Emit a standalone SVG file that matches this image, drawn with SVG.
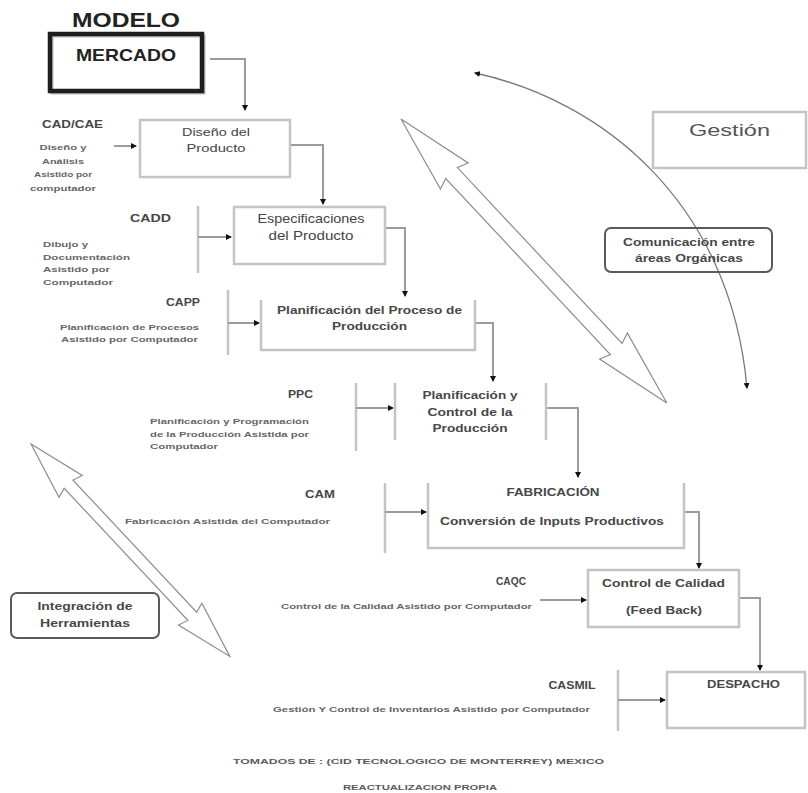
<svg xmlns="http://www.w3.org/2000/svg" width="808" height="793" viewBox="0 0 808 793">
  <style>
    text { font-family: "Liberation Sans", Arial, sans-serif; }
    .ttl { font-weight: bold; fill: #222; }
    .lbl { font-weight: bold; fill: #474747; font-size: 10px; }
    .big { fill: #444; }
    .desc { font-weight: bold; fill: #666; font-size: 8px; }
    .box { fill: none; stroke: #c4c4c4; stroke-width: 2.5; }
    .rbox { fill: none; stroke: #5a5a5a; stroke-width: 2; }
    .conn { fill: none; stroke: #9c9c9c; stroke-width: 2; }
    .bar { fill: none; stroke: #c4c4c4; stroke-width: 2.5; }
    .dbl { fill: #fff; stroke: #8c8c8c; stroke-width: 1.2; stroke-linejoin: miter; }
    .curve { fill: none; stroke: #7a7a7a; stroke-width: 1.3; }
    .note { font-weight: bold; fill: #5a5a5a; font-size: 8px; }
  </style>
  <defs>
    <marker id="tip" viewBox="0 0 6 6" refX="5" refY="3" markerWidth="6" markerHeight="6" orient="auto-start-reverse" markerUnits="userSpaceOnUse">
      <path d="M0,0 L6,3 L0,6 z" fill="#111"/>
    </marker>
  </defs>
  <rect width="808" height="793" fill="#fff"/>

  <!-- title -->
  <text class="ttl" x="126" y="27" font-size="21" text-anchor="middle" textLength="108" lengthAdjust="spacingAndGlyphs">MODELO</text>

  <!-- connectors -->
  <g id="connectors">
    <path class="conn" d="M210,59 H245 V110" marker-end="url(#tip)"/>
    <path class="conn" d="M114,146 H136" marker-end="url(#tip)"/>
    <path class="conn" d="M290,145 H323 V204" stroke="#6a6a6a" marker-end="url(#tip)"/>
    <path class="bar" d="M198,206 V273"/>
    <path class="conn" d="M198,237 H231" marker-end="url(#tip)"/>
    <path class="conn" d="M386,228 H405 V296" marker-end="url(#tip)"/>
    <path class="bar" d="M228,290 V355"/>
    <path class="conn" d="M228,323 H259" marker-end="url(#tip)"/>
    <path class="conn" d="M476,323 H493 V381" marker-end="url(#tip)"/>
    <path class="bar" d="M356,383 V451"/>
    <path class="conn" d="M356,408 H393" marker-end="url(#tip)"/>
    <path class="conn" d="M546,408 H578 V477" marker-end="url(#tip)"/>
    <path class="bar" d="M385,483 V553"/>
    <path class="conn" d="M385,512 H426" marker-end="url(#tip)"/>
    <path class="conn" d="M684,512 H699 V568" marker-end="url(#tip)"/>
    <path class="conn" d="M540,600 H586" stroke="#8a8a8a" marker-end="url(#tip)"/>
    <path class="conn" d="M739,598 H760 V670" marker-end="url(#tip)"/>
    <path class="bar" d="M618,670 V731"/>
    <path class="conn" d="M618,700 H665" marker-end="url(#tip)"/>
    <!-- management feedback curve -->
    <path class="curve" d="M475,73 C600,100 730,200 747,388" marker-start="url(#tip)" marker-end="url(#tip)"/>
    <!-- hollow double arrows -->
    <polygon class="dbl" transform="translate(401,119) rotate(46.9)" points="0,0 78,-19 74,-8 315,-8 311,-19 389,0 311,19 315,8 74,8 78,19"/>
    <polygon class="dbl" transform="translate(31,444) rotate(46.9)" points="0,0 58,-16 55,-6 236,-6 233,-16 291,0 233,16 236,6 55,6 58,16"/>
  </g>

  <g id="mercado">
    <rect x="52" y="36" width="152" height="57" fill="none" stroke="#bbb" stroke-width="3"/>
    <rect x="50" y="34" width="152" height="57" fill="none" stroke="#1e1e1e" stroke-width="4.5"/>
    <text class="ttl" x="126" y="61" font-size="17" text-anchor="middle" textLength="100" lengthAdjust="spacingAndGlyphs" fill="#333">MERCADO</text>
  </g>

  <g id="diseno">
    <rect class="box" x="140" y="120" width="150" height="57"/>
    <text class="big" x="216" y="136" font-size="11" text-anchor="middle" textLength="68" lengthAdjust="spacingAndGlyphs">Diseño del</text>
    <text class="big" x="216" y="152" font-size="11" text-anchor="middle" textLength="59" lengthAdjust="spacingAndGlyphs">Producto</text>
  </g>

  <g id="cad-cae">
    <text class="lbl" x="72.5" y="127.5" text-anchor="middle" textLength="61" lengthAdjust="spacingAndGlyphs">CAD/CAE</text>
    <text class="desc" x="63" y="150" text-anchor="middle" textLength="47" lengthAdjust="spacingAndGlyphs">Diseño y</text>
    <text class="desc" x="63" y="164" text-anchor="middle" textLength="42" lengthAdjust="spacingAndGlyphs">Análisis</text>
    <text class="desc" x="63" y="177" text-anchor="middle" textLength="58" lengthAdjust="spacingAndGlyphs">Asistido por</text>
    <text class="desc" x="63" y="191" text-anchor="middle" textLength="66" lengthAdjust="spacingAndGlyphs">computador</text>
  </g>

  <g id="especificaciones">
    <rect class="box" x="234" y="207" width="151" height="57"/>
    <text class="big" x="311" y="222.5" font-size="13" text-anchor="middle" textLength="107" lengthAdjust="spacingAndGlyphs">Especificaciones</text>
    <text class="big" x="311" y="239.5" font-size="13" text-anchor="middle" textLength="85" lengthAdjust="spacingAndGlyphs">del Producto</text>
  </g>

  <g id="cadd">
    <text class="lbl" x="150.5" y="221.5" text-anchor="middle" textLength="41" lengthAdjust="spacingAndGlyphs">CADD</text>
    <text class="desc" x="43" y="247" textLength="45" lengthAdjust="spacingAndGlyphs">Dibujo y</text>
    <text class="desc" x="43" y="260" textLength="87" lengthAdjust="spacingAndGlyphs">Documentación</text>
    <text class="desc" x="43" y="272" textLength="67" lengthAdjust="spacingAndGlyphs">Asistido por</text>
    <text class="desc" x="43" y="285" textLength="70" lengthAdjust="spacingAndGlyphs">Computador</text>
  </g>

  <g id="plan-proceso">
    <path class="box" d="M261,300 V350 H475 V300"/>
    <text class="lbl" x="369.5" y="314" text-anchor="middle" textLength="185" lengthAdjust="spacingAndGlyphs">Planificación del Proceso de</text>
    <text class="lbl" x="369.5" y="330" text-anchor="middle" textLength="75" lengthAdjust="spacingAndGlyphs">Producción</text>
  </g>

  <g id="capp">
    <text class="lbl" x="183" y="305.5" text-anchor="middle" textLength="34" lengthAdjust="spacingAndGlyphs">CAPP</text>
    <text class="desc" x="60" y="330" textLength="139" lengthAdjust="spacingAndGlyphs">Planificación de Procesos</text>
    <text class="desc" x="61" y="342" textLength="137" lengthAdjust="spacingAndGlyphs">Asistido por Computador</text>
  </g>

  <g id="plan-control">
    <path class="bar" d="M395,383 V440 M546,383 V440"/>
    <text class="lbl" x="470" y="398.5" text-anchor="middle" textLength="95" lengthAdjust="spacingAndGlyphs">Planificación y</text>
    <text class="lbl" x="470" y="415.5" text-anchor="middle" textLength="85" lengthAdjust="spacingAndGlyphs">Control de la</text>
    <text class="lbl" x="470" y="431.5" text-anchor="middle" textLength="75" lengthAdjust="spacingAndGlyphs">Producción</text>
  </g>

  <g id="ppc">
    <text class="lbl" x="300.5" y="397.5" text-anchor="middle" textLength="25" lengthAdjust="spacingAndGlyphs">PPC</text>
    <text class="desc" x="150" y="424" textLength="159" lengthAdjust="spacingAndGlyphs">Planificación y Programación</text>
    <text class="desc" x="150" y="437" textLength="159" lengthAdjust="spacingAndGlyphs">de la Producción Asistida por</text>
    <text class="desc" x="150" y="449" textLength="68" lengthAdjust="spacingAndGlyphs">Computador</text>
  </g>

  <g id="fabricacion">
    <path class="box" d="M428,483 V548 H684 V483"/>
    <text class="lbl" x="553" y="495.5" font-size="9" text-anchor="middle" textLength="93" lengthAdjust="spacingAndGlyphs">FABRICACIÓN</text>
    <text class="lbl" x="552" y="525" font-size="11" text-anchor="middle" textLength="224" lengthAdjust="spacingAndGlyphs">Conversión de Inputs Productivos</text>
  </g>

  <g id="cam">
    <text class="lbl" x="320" y="497.5" text-anchor="middle" textLength="30" lengthAdjust="spacingAndGlyphs">CAM</text>
    <text class="desc" x="125" y="524" textLength="205" lengthAdjust="spacingAndGlyphs">Fabricación Asistida del Computador</text>
  </g>

  <g id="control-calidad">
    <rect class="box" x="588" y="570" width="151" height="57"/>
    <text class="lbl" x="663.5" y="586.5" text-anchor="middle" textLength="123" lengthAdjust="spacingAndGlyphs">Control de Calidad</text>
    <text class="lbl" x="664" y="613.5" text-anchor="middle" textLength="76" lengthAdjust="spacingAndGlyphs">(Feed Back)</text>
  </g>

  <g id="caqc">
    <text class="lbl" x="511" y="584.5" text-anchor="middle" textLength="30" lengthAdjust="spacingAndGlyphs">CAQC</text>
    <text class="desc" x="281" y="609" font-size="7.5" textLength="251" lengthAdjust="spacingAndGlyphs">Control de la Calidad Asistido por Computador</text>
  </g>

  <g id="despacho">
    <rect class="box" x="667" y="672" width="138" height="56"/>
    <text class="lbl" x="743.5" y="687.5" text-anchor="middle" textLength="73" lengthAdjust="spacingAndGlyphs">DESPACHO</text>
  </g>

  <g id="casmil">
    <text class="lbl" x="572" y="688.5" text-anchor="middle" textLength="47" lengthAdjust="spacingAndGlyphs">CASMIL</text>
    <text class="desc" x="273" y="711.5" font-size="7" textLength="317" lengthAdjust="spacingAndGlyphs">Gestión Y Control de Inventarios Asistido por Computador</text>
  </g>

  <g id="gestion">
    <rect class="box" x="653" y="112" width="153" height="56"/>
    <text x="729.5" y="135.5" font-size="16" fill="#555" text-anchor="middle" textLength="81" lengthAdjust="spacingAndGlyphs">Gestión</text>
  </g>

  <g id="comunicacion">
    <rect class="rbox" x="605" y="228" width="167" height="44" rx="6"/>
    <text class="lbl" x="689" y="246" font-size="9" text-anchor="middle" textLength="132" lengthAdjust="spacingAndGlyphs">Comunicación entre</text>
    <text class="lbl" x="689" y="261.5" font-size="9" text-anchor="middle" textLength="108" lengthAdjust="spacingAndGlyphs">áreas Orgánicas</text>
  </g>

  <g id="integracion">
    <rect class="rbox" x="11" y="593" width="148" height="45" rx="6"/>
    <text class="lbl" x="85" y="610" font-size="9.5" text-anchor="middle" textLength="95" lengthAdjust="spacingAndGlyphs">Integración de</text>
    <text class="lbl" x="85" y="626.5" font-size="9.5" text-anchor="middle" textLength="90" lengthAdjust="spacingAndGlyphs">Herramientas</text>
  </g>

  <!-- source note -->
  <text class="note" x="418.5" y="764" text-anchor="middle" textLength="371" lengthAdjust="spacingAndGlyphs">TOMADOS DE : (CID TECNOLOGICO DE MONTERREY) MEXICO</text>
  <text class="note" x="420" y="790" text-anchor="middle" textLength="154" lengthAdjust="spacingAndGlyphs">REACTUALIZACION PROPIA</text>
</svg>
